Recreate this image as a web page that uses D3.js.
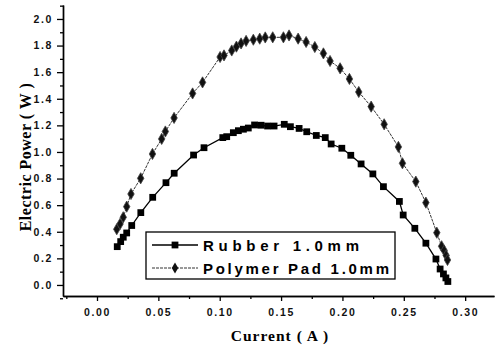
<!DOCTYPE html>
<html>
<head>
<meta charset="utf-8">
<script src="https://cdn.jsdelivr.net/npm/d3@7"></script>
<style>
  body { margin: 0; background: #fff; }
  svg { display: block; }
</style>
</head>
<body>
<svg id="chart"></svg>
<script>
// Rubber 1.0mm (squares)
const rubberCurrent = [0.0165, 0.0193, 0.0214, 0.0242, 0.0283, 0.0357, 0.0454, 0.0562, 0.0629, 0.0787,
  0.0872, 0.1025, 0.1057, 0.1111, 0.1152, 0.1193, 0.1233, 0.1284, 0.1337, 0.1390,
  0.1443, 0.1526, 0.1576, 0.1647, 0.1709, 0.1787, 0.1860, 0.1908, 0.1995, 0.2068,
  0.2152, 0.2248, 0.2334, 0.2464, 0.2495, 0.2590, 0.2680, 0.2762, 0.2796, 0.2823,
  0.2843, 0.2859]
const rubberPower = [0.288, 0.326, 0.359, 0.391, 0.447, 0.544, 0.659, 0.769, 0.840, 0.977,
  1.032, 1.108, 1.115, 1.145, 1.160, 1.171, 1.180, 1.203, 1.201, 1.195,
  1.195, 1.208, 1.190, 1.177, 1.152, 1.124, 1.108, 1.060, 1.028, 0.975,
  0.910, 0.835, 0.739, 0.628, 0.526, 0.426, 0.314, 0.195, 0.120, 0.083,
  0.053, 0.026]

// Polymer Pad 1.0mm (diamonds)
const polymerCurrent = [0.0161, 0.0188, 0.0214, 0.0242, 0.0277, 0.0356, 0.0452, 0.0527, 0.0557, 0.0628,
  0.0779, 0.0860, 0.1003, 0.1035, 0.1098, 0.1136, 0.1174, 0.1215, 0.1274, 0.1326,
  0.1371, 0.1432, 0.1519, 0.1565, 0.1639, 0.1704, 0.1775, 0.1845, 0.1899, 0.1981,
  0.2057, 0.2133, 0.2234, 0.2340, 0.2456, 0.2489, 0.2598, 0.2680, 0.2769, 0.2808,
  0.2829, 0.2845, 0.2856]
const polymerPower = [0.419, 0.459, 0.509, 0.589, 0.684, 0.802, 0.985, 1.098, 1.154, 1.256,
  1.440, 1.523, 1.714, 1.726, 1.763, 1.792, 1.816, 1.835, 1.844, 1.852,
  1.861, 1.862, 1.862, 1.876, 1.852, 1.827, 1.789, 1.741, 1.684, 1.629,
  1.549, 1.451, 1.341, 1.208, 1.038, 0.915, 0.777, 0.619, 0.393, 0.291,
  0.259, 0.222, 0.188]

const xTicks = [0.00, 0.05, 0.10, 0.15, 0.20, 0.25, 0.30]
const xMinorTicks = [-0.025, 0.025, 0.075, 0.125, 0.175, 0.225, 0.275]
const yTicks = [0.0, 0.2, 0.4, 0.6, 0.8, 1.0, 1.2, 1.4, 1.6, 1.8, 2.0]
const yMinorTicks = [-0.1, 0.1, 0.3, 0.5, 0.7, 0.9, 1.1, 1.3, 1.5, 1.7, 1.9, 2.1]
const seriesNames = ["Rubber 1.0mm", "Polymer Pad 1.0mm"]

const width = 496, height = 353

const svg = d3.select("svg#chart")
  .attr("width", width)
  .attr("height", height)

const x = d3.scaleLinear().domain([-0.0277, 0.3235]).range([63, 494])
const y = d3.scaleLinear().domain([-0.083, 2.105]).range([296, 5])

const tickFont = "'Liberation Sans', Arial, sans-serif"
const serifFont = "'Liberation Serif', 'Times New Roman', serif"

// minor ticks first, major on top
svg.append("g")
  .attr("transform", `translate(0,${y.range()[0]})`)
  .call(d3.axisBottom(x).tickValues(xMinorTicks).tickSize(3).tickSizeOuter(0).tickFormat(""))
svg.append("g")
  .attr("transform", `translate(${x.range()[0]},0)`)
  .call(d3.axisLeft(y).tickValues(yMinorTicks).tickSize(3).tickSizeOuter(0).tickFormat(""))

const xAxis = svg.append("g")
  .attr("transform", `translate(0,${y.range()[0]})`)
  .call(d3.axisBottom(x).tickValues(xTicks).tickSize(5).tickSizeOuter(0).tickPadding(8).tickFormat(d3.format(".2f")))
const yAxis = svg.append("g")
  .attr("transform", `translate(${x.range()[0]},0)`)
  .call(d3.axisLeft(y).tickValues(yTicks).tickSize(6).tickSizeOuter(0).tickPadding(4).tickFormat(d3.format(".1f")))

svg.selectAll(".domain").style("stroke", "#000").style("stroke-width", 1.4)
svg.selectAll(".tick line").style("stroke", "#000").style("stroke-width", 1.3)
for (const ax of [xAxis, yAxis]) {
  ax.selectAll("text")
    .style("font-family", tickFont)
    .style("font-size", "10.5px")
    .style("font-weight", "bold")
    .style("letter-spacing", "1.6px")
    .style("fill", "#111")
}

// axis titles
svg.append("text")
  .attr("x", 280).attr("y", 341)
  .attr("text-anchor", "middle")
  .style("font-family", serifFont)
  .style("font-size", "15.5px")
  .style("font-weight", "bold")
  .style("letter-spacing", "1px")
  .text("Current ( A )")

svg.append("text")
  .attr("transform", "translate(31,157) rotate(-90)")
  .attr("text-anchor", "middle")
  .style("font-family", serifFont)
  .style("font-size", "16px")
  .style("font-weight", "bold")
  .style("letter-spacing", "0.5px")
  .text("Electric Power ( W )")

// series
const rubber = rubberCurrent.map((c, i) => [c, rubberPower[i]])
const polymer = polymerCurrent.map((c, i) => [c, polymerPower[i]])
const line = d3.line().x(d => x(d[0])).y(d => y(d[1]))

svg.append("path")
  .datum(polymer)
  .attr("d", line)
  .style("fill", "none")
  .style("stroke", "#333")
  .style("stroke-width", 1)
  .style("stroke-dasharray", "3 1")

svg.append("path")
  .datum(rubber)
  .attr("d", line)
  .style("fill", "none")
  .style("stroke", "#000")
  .style("stroke-width", 1.3)

const square = d3.symbol().type(d3.symbolSquare).size(46)
const diamond = d3.symbol().type(d3.symbolDiamond).size(36)

svg.append("g").selectAll("path")
  .data(polymer)
  .join("path")
  .attr("transform", d => `translate(${x(d[0])},${y(d[1])})`)
  .attr("d", diamond)
  .style("fill", "#111")
  .style("stroke", "#444")
  .style("stroke-width", 0.8)

svg.append("g").selectAll("path")
  .data(rubber)
  .join("path")
  .attr("transform", d => `translate(${x(d[0])},${y(d[1])})`)
  .attr("d", square)
  .style("fill", "#000")

// legend
const legend = svg.append("g").attr("transform", "translate(146,232)")
legend.append("rect")
  .attr("width", 249).attr("height", 47)
  .style("fill", "#fff")
  .style("stroke", "#000")
  .style("stroke-width", 1.3)

const legendRows = [
  { name: seriesNames[0], sym: square, stroke: "#000", sw: 1.3, dash: null, fill: "#000", len: 156 },
  { name: seriesNames[1], sym: diamond, stroke: "#333", sw: 1, dash: "3 1", fill: "#111", len: 186 }
]
legendRows.forEach((row, i) => {
  const yy = 13 + i * 23
  legend.append("line")
    .attr("x1", 6).attr("x2", 52)
    .attr("y1", yy).attr("y2", yy)
    .style("stroke", row.stroke)
    .style("stroke-width", row.sw)
    .style("stroke-dasharray", row.dash)
  legend.append("path")
    .attr("transform", `translate(29,${yy})`)
    .attr("d", row.sym)
    .style("fill", row.fill)
  legend.append("text")
    .attr("x", 57).attr("y", yy + 5.5)
    .attr("textLength", row.len)
    .attr("lengthAdjust", "spacing")
    .style("font-family", tickFont)
    .style("font-size", "15px")
    .style("font-weight", "bold")
    .text(row.name)
})
</script>
</body>
</html>
